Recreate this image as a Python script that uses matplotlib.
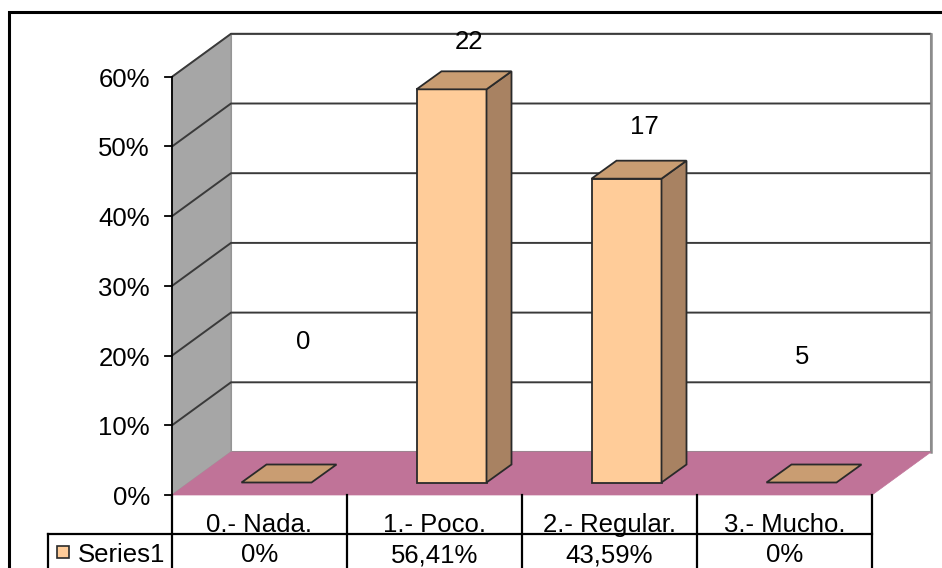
import matplotlib
matplotlib.use("Agg")
import matplotlib.pyplot as plt
from matplotlib.patches import Polygon, Rectangle

plt.rcParams['font.family'] = ['Liberation Sans', 'DejaVu Sans']

# ---- data ----
categories = ["0.- Nada.", "1.- Poco.", "2.- Regular.", "3.- Mucho."]
values_pct = [0.0, 56.41, 43.59, 0.0]
count_labels = ["0", "22", "17", "5"]
label_pos_pct = [22.0, 65.0, 52.8, 19.8]       # where Excel put the count labels
label_xshift = [0.25, 0.2, 0.2, 0.1]
yticks = [0, 10, 20, 30, 40, 50, 60]
series_name = "Series1"

# ---- style ----
FS = 18.5
C_FRONT = "#FFCC99"
C_TOP = "#C99D72"
C_SIDE = "#A88262"
C_FLOOR = "#C07398"
C_SIDEWALL = "#A6A6A6"
C_GRID = "#3A3A3A"
C_EDGE = "#2A2A2A"

W, H = 942, 568
fig = plt.figure(figsize=(W / 100, H / 100), dpi=100)
ax = fig.add_axes([0, 0, 1, 1])
ax.axis("off")

# pixel mapping: category unit = 175 px, 10% = 69.7 px, origin at (172, 495)
PX_X, PX_Y = 175.0, 6.97
ax.set_xlim(-172 / PX_X, (W - 172) / PX_X)
ax.set_ylim(-(H - 495) / PX_Y, 495 / PX_Y)

n = len(categories)
ymax = yticks[-1]
DX, DY = 59 / PX_X, 43 / PX_Y            # full depth offset
OX, OY = 17 / PX_X, 12.5 / PX_Y          # bar front offset
BX, BY = 25 / PX_X, 18 / PX_Y            # bar depth
BW = 70 / PX_X                            # bar width

# walls
ax.add_patch(Polygon([(DX, DY), (n + DX, DY), (n + DX, ymax + DY), (DX, ymax + DY)],
                     closed=True, fc="white", ec="#8C8C8C", lw=1.5, zorder=1))
ax.add_patch(Polygon([(0, 0), (DX, DY), (DX, ymax + DY), (0, ymax)],
                     closed=True, fc=C_SIDEWALL, ec="#9A9A9A", lw=1.0, zorder=1))
# floor
ax.add_patch(Polygon([(0, 0), (n, 0), (n + DX, DY), (DX, DY)],
                     closed=True, fc=C_FLOOR, ec=C_FLOOR, lw=0.5, zorder=2))
# gridlines
for v in yticks[1:]:
    ax.plot([0, DX, n + DX], [v, v + DY, v + DY], color=C_GRID, lw=1.4, zorder=1.5,
            solid_capstyle="butt")
ax.plot([n + DX, n + DX], [DY, ymax + DY], color="#8C8C8C", lw=1.8, zorder=1.6)

# value axis
ax.plot([0, 0], [0, ymax], color="black", lw=1.3, zorder=3)
for v in yticks:
    ax.plot([-7 / PX_X, 0], [v, v], color="black", lw=1.3, zorder=3)
    ax.text(-22 / PX_X, v - 3 / PX_Y, f"{v}%", ha="right", va="center", fontsize=FS,
            zorder=3)

# bars
for i, v in enumerate(values_pct):
    x0 = i + 0.5 - BW / 2 + OX
    x1 = x0 + BW
    yb = OY
    yt = v + OY
    if v > 0:
        ax.add_patch(Polygon([(x0, yb), (x1, yb), (x1, yt), (x0, yt)], closed=True,
                             fc=C_FRONT, ec=C_EDGE, lw=1.3, zorder=5))
        ax.add_patch(Polygon([(x1, yb), (x1 + BX, yb + BY), (x1 + BX, yt + BY), (x1, yt)],
                             closed=True, fc=C_SIDE, ec=C_EDGE, lw=1.3, zorder=5))
    ax.add_patch(Polygon([(x0, yt), (x1, yt), (x1 + BX, yt + BY), (x0 + BX, yt + BY)],
                         closed=True, fc=C_TOP, ec=C_EDGE, lw=1.3, zorder=6))

# count labels
for i, (lab, yp) in enumerate(zip(count_labels, label_pos_pct)):
    ax.text(i + 0.5 + label_xshift[i], yp, lab, ha="center", va="center",
            fontsize=FS, zorder=7)

# data table
y_bot = -(H - 495) / PX_Y
y_mid = -39 / PX_Y
x_leg = -124 / PX_X
for k in range(n + 1):
    ax.plot([k, k], [0, y_bot], color="black", lw=1.6, zorder=3)
ax.plot([x_leg, n], [y_mid, y_mid], color="black", lw=1.6, zorder=3)
ax.plot([x_leg, x_leg], [y_mid, y_bot], color="black", lw=1.6, zorder=3)
y_hdr = -37 / PX_Y      # baseline of header text
y_val = -67 / PX_Y      # baseline of value text
for i, (c, v) in enumerate(zip(categories, values_pct)):
    ax.text(i + 0.5, y_hdr, c, ha="center", va="baseline", fontsize=FS, zorder=3)
    s = "0%" if v == 0 else f"{v:.2f}%".replace(".", ",")
    ax.text(i + 0.5, y_val, s, ha="center", va="baseline", fontsize=FS, zorder=3)
# legend key
ax.add_patch(Rectangle((-115 / PX_X, -63 / PX_Y), 12 / PX_X, 12 / PX_Y,
                       fc=C_FRONT, ec=C_EDGE, lw=1.2, zorder=4))
ax.text(-94 / PX_X, y_val, series_name, ha="left", va="baseline", fontsize=FS, zorder=3)

# outer chart border (left and top visible)
x_b = -163 / PX_X
y_t = (495 - 12) / PX_Y
ax.plot([x_b, x_b, (W - 172) / PX_X + 1], [y_bot - 1, y_t, y_t], color="black",
        lw=2.2, zorder=8, solid_joinstyle="miter")

fig.savefig("out.png", dpi=100)
